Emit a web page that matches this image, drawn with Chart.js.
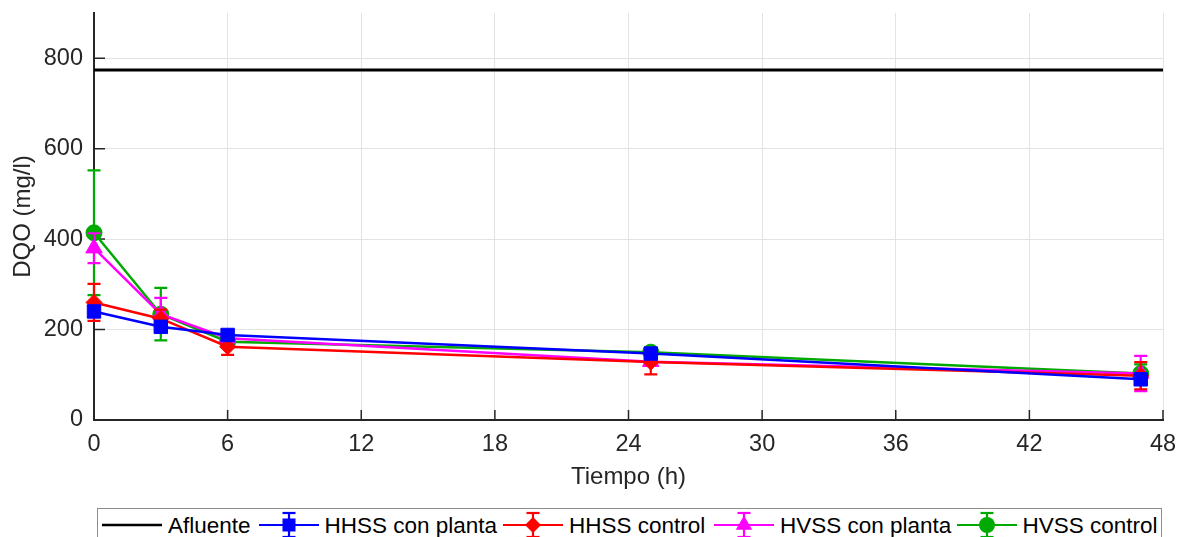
<!DOCTYPE html>
<html>
<head>
<meta charset="utf-8">
<script src="https://cdn.jsdelivr.net/npm/chart.js@4.4.0/dist/chart.umd.min.js"></script>
<style>
  html, body { margin: 0; padding: 0; background: #fff; }
  #wrap { position: relative; width: 1178px; height: 537px; overflow: hidden; font-family: "Liberation Sans", Arial, sans-serif; }
  #c { position: absolute; left: 0; top: 0; }
  #legend { position: absolute; left: 97px; top: 508px; width: 1065px; height: 40px; border: 1.5px solid #8c8c8c; box-sizing: border-box; background: #fff; }
  .item { position: absolute; top: 0; height: 40px; }
  .item svg { position: absolute; top: 0; }
  .item span { position: absolute; top: 4px; font-size: 22.5px; color: #000; white-space: nowrap; line-height: 26px; }
</style>
</head>
<body>
<div id="wrap">
  <canvas id="c" width="1178" height="537"></canvas>
  <div id="legend"></div>
</div>
<script>
// ---- data ----
const times = [0, 3, 6, 25, 47];
const afluenteValue = 774;
const hhssPlanta = [240, 206, 188, 147, 90];
const hhssPlantaErr = [12, 12, 11, 8, 10];
const hhssControl = [260, 224, 162, 128, 98];
const hhssControlErr = [41, 20, 18, 27, 30];
const hvssPlanta = [380, 234, 181, 129, 103];
const hvssPlantaErr = [33, 36, 12, 8, 39];
const hvssControl = [414, 234, 173, 150, 103];
const hvssControlErr = [138, 58, 12, 8, 20];
const xTicks = [0, 6, 12, 18, 24, 30, 36, 42, 48];
const yTicks = [0, 200, 400, 600, 800];
const seriesNames = ['Afluente', 'HHSS con planta', 'HHSS control', 'HVSS con planta', 'HVSS control'];

const colors = ['#000000', '#0000ff', '#ff0000', '#ff00ff', '#00aa00'];
const shapes = [null, 'rect', 'rectRot', 'triangle', 'circle'];
const radii = [0, 9.5, 8, 9.5, 8];

function pts(vals) { return vals.map((v, i) => ({ x: times[i], y: v })); }

const datasets = [
  { label: seriesNames[0], data: [{ x: 0, y: afluenteValue }, { x: 48, y: afluenteValue }],
    borderColor: colors[0], borderWidth: 3, pointRadius: 0, clip: false },
  { label: seriesNames[1], data: pts(hhssPlanta), errors: hhssPlantaErr },
  { label: seriesNames[2], data: pts(hhssControl), errors: hhssControlErr },
  { label: seriesNames[3], data: pts(hvssPlanta), errors: hvssPlantaErr },
  { label: seriesNames[4], data: pts(hvssControl), errors: hvssControlErr }
];
for (let i = 1; i < datasets.length; i++) {
  Object.assign(datasets[i], {
    borderColor: colors[i], backgroundColor: colors[i], borderWidth: 2.5,
    pointStyle: shapes[i], pointRadius: radii[i], pointBackgroundColor: colors[i],
    pointBorderColor: colors[i], pointBorderWidth: 1, clip: false, tension: 0
  });
}

const errPlugin = {
  id: 'errbars',
  beforeDatasetDraw(chart, args) {
    const ds = chart.data.datasets[args.index];
    if (!ds.errors) return;
    const { ctx } = chart; const x = chart.scales.x, y = chart.scales.y;
    ctx.save();
    ctx.strokeStyle = ds.borderColor; ctx.lineWidth = 2.2;
    ds.data.forEach((p, i) => {
      const e = ds.errors[i];
      const px = x.getPixelForValue(p.x);
      const t = y.getPixelForValue(p.y + e), b = y.getPixelForValue(p.y - e);
      ctx.beginPath();
      ctx.moveTo(px, t); ctx.lineTo(px, b);
      ctx.moveTo(px - 6.5, t); ctx.lineTo(px + 6.5, t);
      ctx.moveTo(px - 6.5, b); ctx.lineTo(px + 6.5, b);
      ctx.stroke();
    });
    ctx.restore();
  }
};

const tickPlugin = {
  id: 'innerTicks',
  beforeDatasetsDraw(chart) {
    const { ctx, chartArea: a } = chart; const x = chart.scales.x, y = chart.scales.y;
    ctx.save(); ctx.strokeStyle = '#262626'; ctx.lineWidth = 1.5;
    ctx.beginPath();
    xTicks.forEach(v => { const px = x.getPixelForValue(v); ctx.moveTo(px, a.bottom); ctx.lineTo(px, a.bottom - 10); });
    yTicks.forEach(v => { const py = y.getPixelForValue(v); ctx.moveTo(a.left, py); ctx.lineTo(a.left + 11, py); });
    ctx.stroke(); ctx.restore();
  }
};

function zeroPad(s) { s.paddingTop = 0; s.paddingBottom = 0; s.paddingLeft = 0; s.paddingRight = 0; }

Chart.defaults.font.family = '"Liberation Sans", Arial, sans-serif';
new Chart(document.getElementById('c'), {
  type: 'line',
  data: { datasets },
  options: {
    responsive: false, animation: false, devicePixelRatio: 1,
    layout: { padding: { left: 0, right: 15, top: 13, bottom: 37 } },
    plugins: { legend: { display: false }, tooltip: { enabled: false } },
    scales: {
      x: {
        type: 'linear', min: 0, max: 48,
        afterBuildTicks: s => { s.ticks = xTicks.map(v => ({ value: v })); },
        afterFit: s => { s.height = 80; zeroPad(s); },
        ticks: { color: '#262626', font: { size: 23.5 }, padding: 10, maxRotation: 0 },
        grid: { color: '#e3e3e3', lineWidth: 1, drawTicks: false },
        border: { color: '#262626', width: 2 },
        title: { display: true, text: 'Tiempo (h)', color: '#262626', font: { size: 24 }, padding: { top: 0, bottom: 8 } }
      },
      y: {
        type: 'linear', min: 0, max: 900,
        afterBuildTicks: s => { s.ticks = yTicks.map(v => ({ value: v })); },
        afterFit: s => { s.width = 94; zeroPad(s); },
        ticks: { color: '#262626', font: { size: 23.5 }, padding: 11 },
        grid: { color: '#e3e3e3', lineWidth: 1, drawTicks: false },
        border: { color: '#262626', width: 2 },
        title: { display: true, text: 'DQO (mg/l)', color: '#262626', font: { size: 24 }, padding: { top: 8.5, bottom: 0 } }
      }
    }
  },
  plugins: [errPlugin, tickPlugin]
});

// ---- legend ----
const legendTextX = [168.5, 325, 569.5, 780.5, 1023];
const legend = document.getElementById('legend');
const boxLeft = 97 + 1.5;
seriesNames.forEach((name, i) => {
  const item = document.createElement('div'); item.className = 'item';
  const lineStart = legendTextX[i] - 66 - boxLeft;
  item.style.left = lineStart + 'px';
  const c = colors[i]; const cy = 16; const mid = 30;
  let marker = '';
  if (i > 0) {
    marker += `<line x1="${mid}" y1="${cy-12}" x2="${mid}" y2="${cy+12}" stroke="${c}" stroke-width="2.2"/>` +
      `<line x1="${mid-6.5}" y1="${cy-12}" x2="${mid+6.5}" y2="${cy-12}" stroke="${c}" stroke-width="2.2"/>` +
      `<line x1="${mid-6.5}" y1="${cy+12}" x2="${mid+6.5}" y2="${cy+12}" stroke="${c}" stroke-width="2.2"/>`;
    if (shapes[i] === 'rect') marker += `<rect x="${mid-6.5}" y="${cy-6.5}" width="13" height="13" fill="${c}"/>`;
    if (shapes[i] === 'rectRot') marker += `<polygon points="${mid},${cy-8} ${mid+8},${cy} ${mid},${cy+8} ${mid-8},${cy}" fill="${c}"/>`;
    if (shapes[i] === 'triangle') marker += `<polygon points="${mid},${cy-9.5} ${mid+8.2},${cy+4.75} ${mid-8.2},${cy+4.75}" fill="${c}"/>`;
    if (shapes[i] === 'circle') marker += `<circle cx="${mid}" cy="${cy}" r="8" fill="${c}"/>`;
  }
  item.innerHTML = `<svg width="60" height="40" viewBox="0 0 60 40"><line x1="0" y1="${cy}" x2="60" y2="${cy}" stroke="${c}" stroke-width="${i === 0 ? 2.5 : 2.2}"/>${marker}</svg>` +
    `<span style="left:66px">${name}</span>`;
  legend.appendChild(item);
});
</script>
</body>
</html>
